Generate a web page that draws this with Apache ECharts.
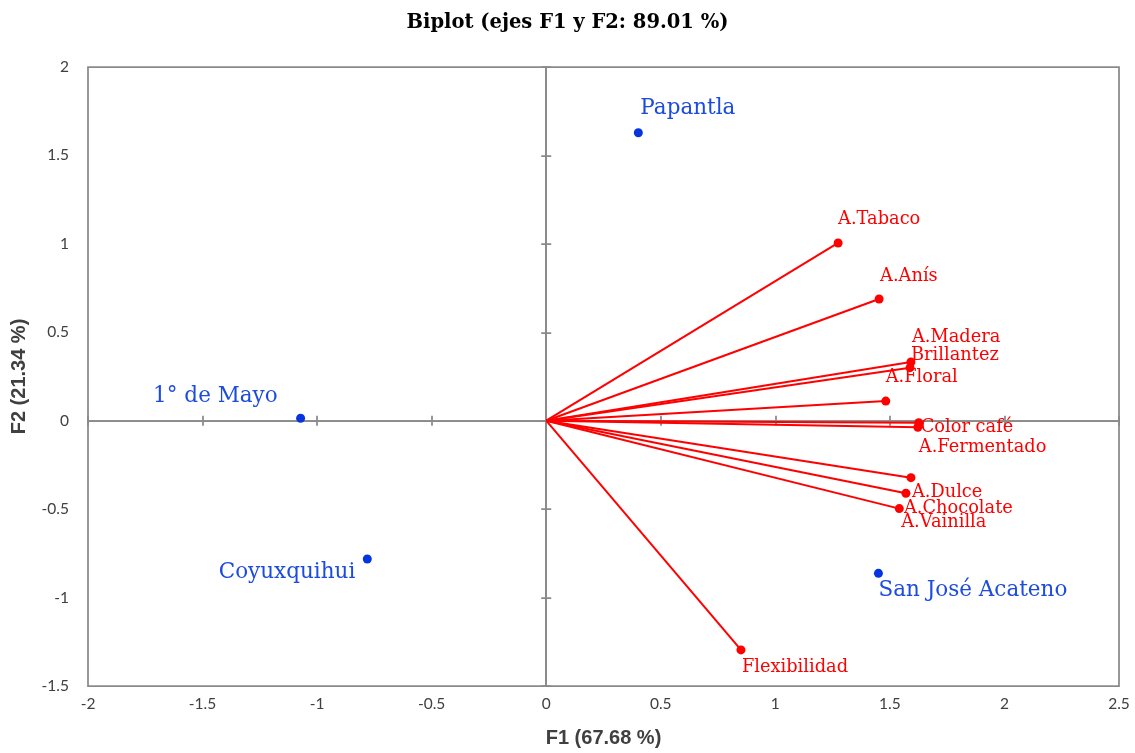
<!DOCTYPE html>
<html>
<head>
<meta charset="utf-8">
<script src="https://cdn.jsdelivr.net/npm/echarts@6/dist/echarts.min.js"></script>
<style>
html,body{margin:0;padding:0;background:#fff;}
#chart{width:1135px;height:753px;}
</style>
</head>
<body>
<div id="chart"></div>
<script>
// ---- Data ----
var variableNames = ['A.Tabaco','A.Anís','A.Madera','Brillantez','A.Floral','Color café','A.Fermentado','A.Dulce','A.Chocolate','A.Vainilla','Flexibilidad'];
var variableF1 = [1.274, 1.453, 1.592, 1.588, 1.482, 1.626, 1.622, 1.592, 1.570, 1.541, 0.850];
var variableF2 = [1.005, 0.688, 0.332, 0.300, 0.111, -0.011, -0.037, -0.322, -0.410, -0.497, -1.296];

var observationNames = ['Papantla','1° de Mayo','Coyuxquihui','San José Acateno'];
var observationF1 = [0.402, -1.072, -0.781, 1.450];
var observationF2 = [1.628, 0.014, -0.782, -0.863];

var xTicks = [-2, -1.5, -1, -0.5, 0, 0.5, 1, 1.5, 2, 2.5];
var yTicks = [-1.5, -1, -0.5, 0, 0.5, 1, 1.5, 2];

// ---- Label styling (offsets of label from point, px) ----
var varLabelOffsets = [[0,-24],[1,-23],[1,-25],[1,-12],[0,-24],[2,5],[1,20],[1,15],[-2,15],[2,14],[1,17]];
var obsLabelStyle = [
  {align:'left', off:[2,-24]},
  {align:'right', off:[-23,-22]},
  {align:'right', off:[-12,13]},
  {align:'left', off:[0,17]}
];

var RED = '#FF0000';
var BLUE_PT = '#0635E0';
var BLUE_TXT = '#1C4BE0';
var GRAY = '#8A8A8A';
var SYM = 9;

var series = [];
variableNames.forEach(function(name, i){
  var off = varLabelOffsets[i];
  series.push({
    type: 'line',
    name: name,
    silent: true,
    animation: false,
    xAxisIndex: 0, yAxisIndex: 0,
    lineStyle: {color: RED, width: 2},
    itemStyle: {color: RED, opacity: 1},
    symbol: 'circle',
    z: 5,
    data: [
      {value: [0, 0], symbolSize: 0, label: {show: false}},
      {value: [variableF1[i], variableF2[i]], symbolSize: SYM,
       label: {show: true, formatter: name, position: [SYM/2 + off[0], SYM/2 + off[1]],
               align: 'left', verticalAlign: 'middle', color: RED,
               fontFamily: 'DejaVu Serif', fontSize: 17.8}}
    ]
  });
});

series.push({
  type: 'scatter',
  name: 'obs',
  silent: true,
  animation: false,
  xAxisIndex: 0, yAxisIndex: 0,
  symbol: 'circle',
  symbolSize: SYM,
  itemStyle: {color: BLUE_PT, opacity: 1},
  z: 6,
  data: observationNames.map(function(name, i){
    var st = obsLabelStyle[i];
    return {
      value: [observationF1[i], observationF2[i]],
      label: {show: true, formatter: name, position: [SYM/2 + st.off[0], SYM/2 + st.off[1]],
              align: st.align, verticalAlign: 'middle', color: BLUE_TXT,
              fontFamily: 'DejaVu Serif', fontSize: 21.5}
    };
  })
});

var xMin = xTicks[0], xMax = xTicks[xTicks.length-1];
var yMin = yTicks[0], yMax = yTicks[yTicks.length-1];
var step = 0.5;

function zeroAxis(pos, min, max){
  return {
    type: 'value', min: min, max: max, interval: step, position: pos,
    axisLine: {show: true, onZero: true, onZeroAxisIndex: 0, lineStyle: {color: GRAY, width: 1.75}},
    axisTick: {show: true, inside: false, length: 5, lineStyle: {color: GRAY, width: 1.75}},
    axisLabel: {show: false}, splitLine: {show: false}, silent: true
  };
}

var option = {
  backgroundColor: '#ffffff',
  animation: false,
  title: {
    text: 'Biplot (ejes F1 y F2: 89.01 %)',
    left: 'center', top: 8,
    textStyle: {fontFamily: 'DejaVu Serif', fontWeight: 'bold', fontSize: 19.5, color: '#000'}
  },
  grid: {
    left: 88, right: 16, top: 67, bottom: 67,
    show: true, borderColor: GRAY, borderWidth: 1.75, backgroundColor: 'transparent',
    containLabel: false, outerBoundsMode: 'none'
  },
  xAxis: [
    {
      type: 'value', min: xMin, max: xMax, interval: step, position: 'bottom',
      name: 'F1 (67.68 %)', nameLocation: 'middle', nameGap: 42,
      nameTextStyle: {fontFamily: 'Liberation Sans', fontWeight: 'bold', fontSize: 20, color: '#404040'},
      axisLine: {show: false, onZero: false},
      axisTick: {show: false},
      axisLabel: {fontFamily: 'Lato', fontSize: 15.5, color: '#404040', margin: 10},
      splitLine: {show: false}
    },
    zeroAxis('bottom', xMin, xMax),
    zeroAxis('top', xMin, xMax)
  ],
  yAxis: [
    {
      type: 'value', min: yMin, max: yMax, interval: step, position: 'left',
      name: 'F2 (21.34 %)', nameLocation: 'middle', nameGap: 59, nameRotate: 90,
      nameTextStyle: {fontFamily: 'Liberation Sans', fontWeight: 'bold', fontSize: 20, color: '#404040'},
      axisLine: {show: false, onZero: false},
      axisTick: {show: false},
      axisLabel: {fontFamily: 'Lato', fontSize: 15.5, color: '#404040', margin: 19},
      splitLine: {show: false}
    },
    zeroAxis('left', yMin, yMax),
    zeroAxis('right', yMin, yMax)
  ],
  series: series
};

var chart = echarts.init(document.getElementById('chart'), null, {renderer: 'canvas'});
chart.setOption(option);
</script>
</body>
</html>
